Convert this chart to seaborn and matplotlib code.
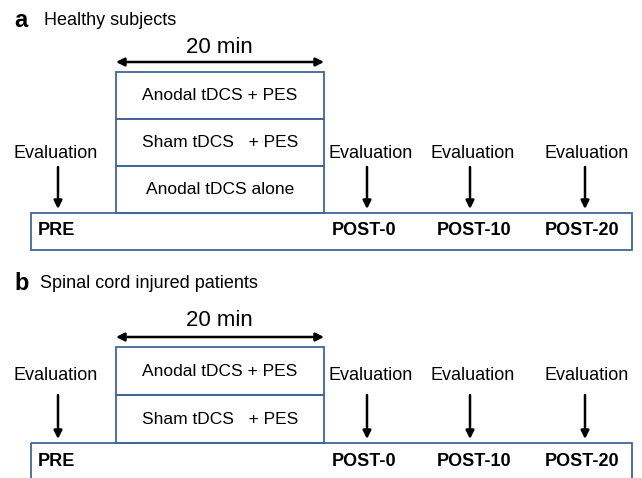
import matplotlib
matplotlib.use("Agg")
import matplotlib.pyplot as plt
from matplotlib.patches import Rectangle
import seaborn as sns

# panel content
panel_labels = ["a", "b"]
panel_titles = ["Healthy subjects", "Spinal cord injured patients"]
duration_label = "20 min"
stages_a = ["Anodal tDCS + PES", "Sham tDCS   + PES", "Anodal tDCS alone"]
stages_b = ["Anodal tDCS + PES", "Sham tDCS   + PES"]
timepoints = ["PRE", "POST-0", "POST-10", "POST-20"]
eval_label = "Evaluation"

sns.set_theme(style="white")
plt.rcParams["font.family"] = ["Liberation Sans", "DejaVu Sans"]
plt.rcParams["text.color"] = "black"

EDGE = "#41669a"

fig = plt.figure(figsize=(6.42, 4.78), dpi=100)
ax = fig.add_axes([0, 0, 1, 1])
ax.set_xlim(0, 642)
ax.set_ylim(478, 0)
ax.axis("off")


def arrow(x0, y0, x1, y1, style="-|>"):
    ax.annotate("", xy=(x1, y1), xytext=(x0, y0),
                arrowprops=dict(arrowstyle=style, color="black", lw=1.8,
                                mutation_scale=12, shrinkA=0, shrinkB=0))


def draw_panel(label, title, stages, head_y, title_x, min_y, box_top, row_h,
               bar_bottom, eval_left_y, eval_right_y, arrow_top, lab_off):
    # header
    ax.text(14, head_y, label, fontsize=17, fontweight="bold", va="center", ha="left")
    ax.text(title_x, head_y, title, fontsize=13, va="center", ha="left")

    # 20 min duration
    ax.text(219, min_y, duration_label, fontsize=16, va="center", ha="center")
    arrow(116, box_top - 10, 324, box_top - 10, style="<|-|>")

    # stacked condition boxes
    for i, s in enumerate(stages):
        top = box_top + i * row_h
        ax.add_patch(Rectangle((116, top), 208, row_h, fill=False,
                               edgecolor=EDGE, lw=1.3, zorder=3))
        ax.text(220, top + row_h / 2, s, fontsize=12.5, va="center", ha="center")
    box_bottom = box_top + len(stages) * row_h

    # timeline bar
    ax.add_patch(Rectangle((31, box_bottom), 601, bar_bottom - box_bottom,
                           fill=False, edgecolor=EDGE, lw=1.3, zorder=2))

    # evaluations
    ax.text(56, eval_left_y, eval_label, fontsize=13, va="center", ha="center")
    arrow(58, arrow_top, 58, box_bottom - 4)
    for xt, xa in zip([371, 473, 587], [367, 470, 585]):
        ax.text(xt, eval_right_y, eval_label, fontsize=13, va="center", ha="center")
        arrow(xa, arrow_top, xa, box_bottom - 4)

    # timepoints
    lab_y = box_bottom + lab_off
    ax.text(38, lab_y, timepoints[0], fontsize=13, fontweight="bold",
            va="center", ha="left")
    for xt, t in zip([364, 474, 582], timepoints[1:]):
        ax.text(xt, lab_y, t, fontsize=13, fontweight="bold",
                va="center", ha="center")


draw_panel(panel_labels[0], panel_titles[0], stages_a, head_y=20, title_x=44,
           min_y=47, box_top=72, row_h=47, bar_bottom=250,
           eval_left_y=153, eval_right_y=153, arrow_top=167, lab_off=17)
draw_panel(panel_labels[1], panel_titles[1], stages_b, head_y=283, title_x=40,
           min_y=321, box_top=347, row_h=48, bar_bottom=490,
           eval_left_y=375, eval_right_y=376, arrow_top=395, lab_off=19)

fig.savefig("out.png", dpi=100)
